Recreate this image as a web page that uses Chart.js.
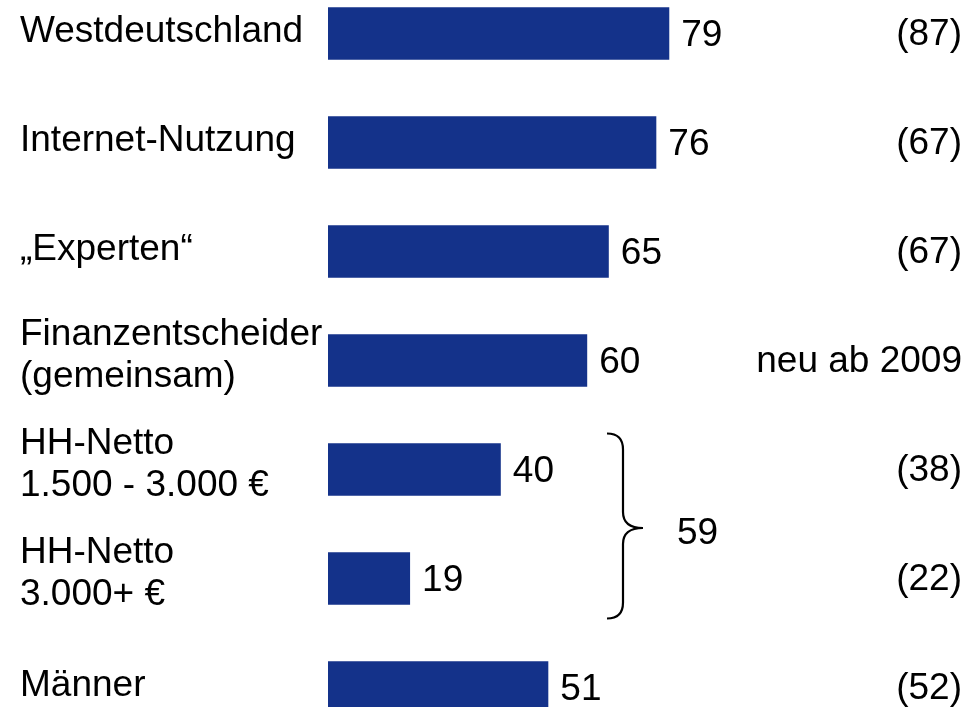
<!DOCTYPE html>
<html>
<head>
<meta charset="utf-8">
<script src="https://cdn.jsdelivr.net/npm/chart.js@4"></script>
<style>
  html, body { margin: 0; padding: 0; background: #fff; overflow: hidden; }
  #wrap { position: relative; width: 979px; height: 707px; overflow: hidden; }
  #chart { position: absolute; left: 0; top: -21px; }
</style>
</head>
<body>
<div id="wrap">
  <canvas id="chart" width="979" height="763"></canvas>
</div>
<script>
const categories = [
  ["Westdeutschland"],
  ["Internet-Nutzung"],
  ["„Experten“"],
  ["Finanzentscheider", "(gemeinsam)"],
  ["HH-Netto", "1.500 - 3.000 €"],
  ["HH-Netto", "3.000+ €"],
  ["Männer"]
];
const values = [79, 76, 65, 60, 40, 19, 51];
const previousLabels = ["(87)", "(67)", "(67)", "neu ab 2009", "(38)", "(22)", "(52)"];
const groupRows = [4, 5];
const groupTotal = "59";

const FONT = "37px 'Liberation Sans', Arial, sans-serif";
const barColor = "#14328a";

// draws category names, values, right column and the brace
const labelsPlugin = {
  id: "labels",
  afterDatasetsDraw(chart) {
    const ctx = chart.ctx;
    const x = chart.scales.x;
    const y = chart.scales.y;
    ctx.save();
    ctx.font = FONT;
    ctx.fillStyle = "#000";
    ctx.textBaseline = "alphabetic";

    categories.forEach((lines, i) => {
      const cy = y.getPixelForValue(i);
      ctx.textAlign = "left";
      if (lines.length === 1) {
        ctx.fillText(lines[0], 20, cy + 8);
      } else {
        ctx.fillText(lines[0], 20, cy - 16);
        ctx.fillText(lines[1], 20, cy + 26);
      }
      // value at bar end
      ctx.fillText(String(values[i]), x.getPixelForValue(values[i]) + 12, cy + 12);
      // comparison column
      ctx.textAlign = "right";
      ctx.fillText(previousLabels[i], 962, cy + 11);
    });

    // brace around the two income rows
    const yTop = y.getPixelForValue(groupRows[0]) - 36;
    const yBot = y.getPixelForValue(groupRows[1]) + 40;
    const yMid = (yTop + yBot) / 2 + 2;
    const bx = 623;
    const r = 16;
    ctx.strokeStyle = "#000";
    ctx.lineWidth = 2.2;
    ctx.beginPath();
    ctx.moveTo(bx - r, yTop);
    ctx.quadraticCurveTo(bx, yTop, bx, yTop + r);
    ctx.lineTo(bx, yMid - r);
    ctx.quadraticCurveTo(bx, yMid, bx + 20, yMid);
    ctx.quadraticCurveTo(bx, yMid, bx, yMid + r);
    ctx.lineTo(bx, yBot - r);
    ctx.quadraticCurveTo(bx, yBot, bx - r, yBot);
    ctx.stroke();

    ctx.textAlign = "left";
    ctx.fillText(groupTotal, 677, yMid + 16);
    ctx.restore();
  }
};

new Chart(document.getElementById("chart").getContext("2d"), {
  type: "bar",
  data: {
    labels: categories,
    datasets: [
      {
        data: values,
        backgroundColor: barColor,
        borderWidth: 0,
        categoryPercentage: 1,
        barPercentage: 0.48
      }
    ]
  },
  options: {
    indexAxis: "y",
    responsive: false,
    animation: false,
    layout: { padding: { left: 328, right: 219, top: 0, bottom: 0 } },
    plugins: {
      legend: { display: false },
      tooltip: { enabled: false }
    },
    scales: {
      x: { display: false, min: 0, max: 100 },
      y: { display: false }
    }
  },
  plugins: [labelsPlugin]
});
</script>
</body>
</html>
